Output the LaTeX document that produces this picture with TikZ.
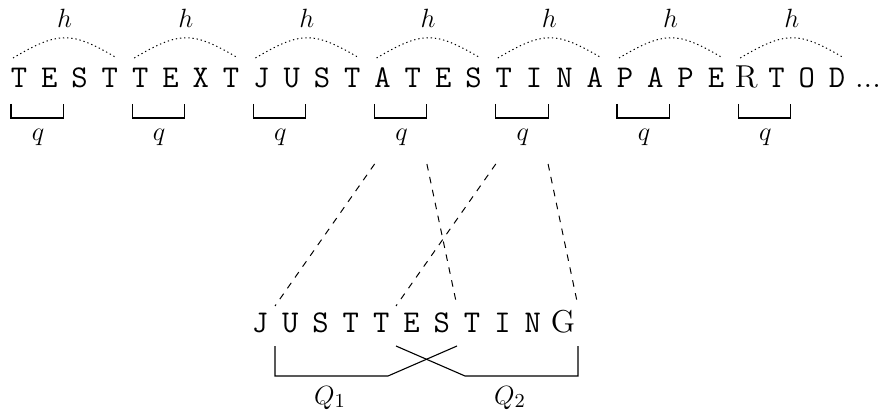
\documentclass[tikz,border=0pt]{standalone}
\begin{document}
\begin{tikzpicture}[x=0.4545pt,y=-0.4545pt,
  letter/.style={font=\Large\ttfamily, anchor=base, inner sep=0pt},
  odd/.style={font=\Large\rmfamily, anchor=base, inner sep=0pt},
  lbl/.style={anchor=base, inner sep=0pt, font=\fontsize{13}{15}\selectfont},
  arcline/.style={dash pattern=on 0.6pt off 1.3pt, line width=0.45pt},
  brk/.style={line width=0.5pt},
  link/.style={dashed, line width=0.45pt}]
\useasboundingbox (0,0) rectangle (879,415);
% top row
\foreach \c [count=\i from 0] in {T,E,S,T,T,E,X,T,J,U,S,T,A,T,E,S,T,I,N,A,P,A,P,E,R,T,O,D}{
  \ifnum\i=24
    \node[odd] (t\i) at ({19+30.3*\i},88) {\c};
  \else
    \node[letter] (t\i) at ({19+30.3*\i},88) {\c};
  \fi}
\node[lbl, font=\Large] (dots) at (868,88) {...};
% groups
\foreach \k in {0,...,6}{
  \pgfmathsetmacro{\xf}{19+121.2*\k}
  \coordinate (hL\k) at (\xf-6,58);
  \coordinate (hR\k) at (\xf+97.9,58);
  \draw[arcline] (hL\k) .. controls (\xf+40,31) and (\xf+52,31) .. (hR\k);
  \node[lbl] (h\k) at (\xf+45.5,28) {$h$};
  \coordinate (qA\k) at (\xf-8,104);
  \coordinate (qB\k) at (\xf-8,118);
  \coordinate (qC\k) at (\xf+44.3,118);
  \coordinate (qD\k) at (\xf+44.3,104);
  \draw[brk] (qA\k) -- (qB\k) -- (qC\k) -- (qD\k);
  \node[lbl] (q\k) at (\xf+19,141) {$q$};
  \coordinate (sL\k) at (\xf-8,164);
  \coordinate (sR\k) at (\xf+44.3,164);
}
% bottom word
\foreach \c [count=\j from 0] in {J,U,S,T,T,E,S,T,I,N,G}{
  \ifnum\j=10
    \node[odd] (b\j) at ({260+30.3*\j},332) {\c};
  \else
    \node[letter] (b\j) at ({260+30.3*\j},332) {\c};
  \fi}
% end points of the dashed links
\coordinate (e1) at (275,306);
\coordinate (e2) at (457,306);
\coordinate (e3) at (396,306);
\coordinate (e4) at (578,306);
\draw[link] (sL3) -- (e1);
\draw[link] (sR3) -- (e2);
\draw[link] (sL4) -- (e3);
\draw[link] (sR4) -- (e4);
% Q brackets
\coordinate (A1) at (275,346);
\coordinate (A2) at (275,376);
\coordinate (A3) at (388,376);
\coordinate (A4) at (457,346);
\coordinate (B1) at (396,346);
\coordinate (B2) at (465,376);
\coordinate (B3) at (578,376);
\coordinate (B4) at (578,346);
\draw[brk] (A1) -- (A2) -- (A3) -- (A4);
\draw[brk] (B1) -- (B2) -- (B3) -- (B4);
\node[lbl] (Q1) at (330,404) {$Q_1$};
\node[lbl] (Q2) at (510,404) {$Q_2$};
\end{tikzpicture}
\end{document}
